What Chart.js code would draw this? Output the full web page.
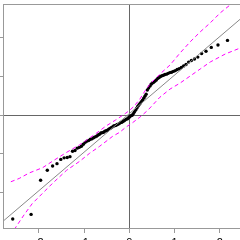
<!DOCTYPE html>
<html><head><meta charset="utf-8">
<script src="https://cdn.jsdelivr.net/npm/chart.js@4/dist/chart.umd.min.js"></script>
<style>
html,body{margin:0;padding:0;background:#fff;overflow:hidden;width:240px;height:240px;}
#wrap{position:absolute;left:-30px;top:0;width:290px;height:260px;}
</style></head><body>
<div id="wrap"><canvas id="c" width="290" height="260"></canvas></div>
<script>
const theoretical = [-2.576,-2.170,-1.960,-1.812,-1.695,-1.598,-1.514,-1.440,-1.372,-1.311,-1.254,-1.200,-1.150,-1.103,-1.058,-1.015,-0.974,-0.935,-0.896,-0.860,-0.824,-0.789,-0.755,-0.722,-0.690,-0.659,-0.628,-0.598,-0.568,-0.539,-0.510,-0.482,-0.454,-0.426,-0.399,-0.372,-0.345,-0.319,-0.292,-0.266,-0.240,-0.215,-0.189,-0.164,-0.138,-0.113,-0.088,-0.063,-0.038,-0.013,
0.013,0.038,0.063,0.088,0.113,0.138,0.164,0.189,0.215,0.240,0.266,0.292,0.319,0.345,0.372,0.399,0.426,0.454,0.482,0.510,0.539,0.568,0.598,0.628,0.659,0.690,0.722,0.755,0.789,0.824,0.860,0.896,0.935,0.974,1.015,1.058,1.103,1.150,1.200,1.254,1.311,1.372,1.440,1.514,1.598,1.695,1.812,1.960,2.170,2.576];
const sample = [-2.68,-2.56,-1.68,-1.42,-1.31,-1.25,-1.14,-1.10,-1.09,-1.07,-0.93,-0.91,-0.85,-0.83,-0.80,-0.75,-0.70,-0.67,-0.65,-0.62,-0.61,-0.58,-0.56,-0.54,-0.51,-0.49,-0.46,-0.45,-0.44,-0.41,-0.40,-0.39,-0.36,-0.34,-0.32,-0.30,-0.28,-0.27,-0.26,-0.24,-0.23,-0.21,-0.19,-0.18,-0.16,-0.14,-0.12,-0.10,-0.09,-0.06,
-0.04,-0.01,0.00,0.04,0.08,0.13,0.18,0.23,0.27,0.31,0.35,0.39,0.44,0.49,0.54,0.65,0.70,0.75,0.80,0.83,0.85,0.88,0.91,0.95,0.97,1.00,1.02,1.03,1.05,1.06,1.08,1.10,1.11,1.13,1.15,1.18,1.20,1.23,1.27,1.31,1.37,1.41,1.45,1.50,1.59,1.65,1.75,1.81,1.93,2.30];
const upperX = [-2.618,-2.433,-2.211,-1.916,-1.693,-1.396,-1.100,-0.967,-0.744,-0.522,-0.300,-0.078,0.011,0.107,0.233,0.344,0.456,0.678,0.900,1.122,1.344,1.567,1.789,2.011,2.233,2.456];
const upperY = [-1.718,-1.632,-1.490,-1.355,-1.184,-0.966,-0.764,-0.661,-0.479,-0.285,-0.122,0.052,0.130,0.233,0.415,0.622,0.803,1.062,1.295,1.606,1.891,2.150,2.383,2.642,2.850,3.057];
const lowerX = [-2.544,-2.322,-2.144,-1.922,-1.700,-1.389,-1.100,-0.878,-0.656,-0.367,-0.211,-0.078,0.056,0.233,0.411,0.678,0.900,1.122,1.344,1.567,1.789,2.122,2.456];
const lowerY = [-2.953,-2.565,-2.280,-2.021,-1.762,-1.425,-1.192,-0.984,-0.803,-0.544,-0.440,-0.311,-0.207,-0.052,0.130,0.466,0.674,0.829,1.010,1.192,1.373,1.580,1.736];
const refLineX = [-2.80, 2.95];
const refLineY = [-2.746, 2.975];
const xTicks = [-2,-1,0,1,2];
const yTicks = [-2,-1,0,1,2];

const pts = (xs, ys) => xs.map((x, i) => ({x: x, y: ys[i]}));

const frame = {
  id: 'frame',
  afterDatasetsDraw(chart) {
    const {ctx, chartArea: a} = chart;
    ctx.save();
    ctx.strokeStyle = '#999';
    ctx.lineWidth = 1;
    ctx.strokeRect(a.left + 0.5, a.top + 0.5, a.right - a.left, a.bottom - a.top);
    ctx.restore();
  }
};

const zeroGrid = c => (c.tick && c.tick.value === 0) ? '#666' : 'rgba(0,0,0,0)';
const noPad = s => { s.paddingTop = 0; s.paddingBottom = 0; s.paddingLeft = 0; s.paddingRight = 0; };

const chart = new Chart(document.getElementById('c'), {
  type: 'scatter',
  data: {
    datasets: [
      {data: pts(upperX, upperY), showLine: true, borderColor: '#ff00ff', borderWidth: 1, borderDash: [4, 3], pointRadius: 0, fill: false, clip: 0},
      {data: pts(lowerX, lowerY), showLine: true, borderColor: '#ff00ff', borderWidth: 1, borderDash: [4, 3], pointRadius: 0, fill: false, clip: 0},
      {data: pts(refLineX, refLineY), showLine: true, borderColor: '#888', borderWidth: 1, pointRadius: 0, fill: false, clip: 0},
      {data: pts(theoretical, sample), showLine: false, pointRadius: 1.7, pointBackgroundColor: '#000', pointBorderWidth: 0, clip: 0}
    ]
  },
  options: {
    responsive: false,
    animation: false,
    devicePixelRatio: 1,
    layout: {padding: {top: 3, left: 0, right: 0, bottom: 0}},
    plugins: {legend: {display: false}, tooltip: {enabled: false}},
    scales: {
      x: {
        type: 'linear', min: -2.80, max: 2.91,
        afterBuildTicks: s => { s.ticks = xTicks.map(v => ({value: v})); },
        afterFit: s => { s.height = 32; noPad(s); },
        border: {display: false},
        grid: {drawOnChartArea: true, color: zeroGrid, tickColor: '#999', tickLength: 5, lineWidth: 1},
        ticks: {color: '#000', font: {family: 'Liberation Sans', size: 11}, padding: 3, maxRotation: 0, autoSkip: false}
      },
      y: {
        type: 'linear', min: -2.90, max: 2.93,
        afterBuildTicks: s => { s.ticks = yTicks.map(v => ({value: v})); },
        afterFit: s => { s.width = 33; noPad(s); },
        border: {display: false},
        grid: {drawOnChartArea: true, color: zeroGrid, tickColor: '#999', tickLength: 5, lineWidth: 1},
        ticks: {color: '#000', font: {family: 'Liberation Sans', size: 11}, padding: 3}
      }
    }
  },
  plugins: [frame]
});

// calibrate the axis ranges so that value 0 and the unit spacing land where the reference has them
const canvasOffset = 30;        // canvas is shifted left by this many px
const xZeroPage = 129.3, xUnit = 45.25;
const yZeroPage = 115.2, yUnit = 38.75;
const a = chart.chartArea;
chart.options.scales.x.min = (a.left - (xZeroPage + canvasOffset)) / xUnit;
chart.options.scales.x.max = (a.right - (xZeroPage + canvasOffset)) / xUnit;
chart.options.scales.y.min = (yZeroPage - a.bottom) / yUnit;
chart.options.scales.y.max = (yZeroPage - a.top) / yUnit;
chart.update();
</script>
</body></html>
